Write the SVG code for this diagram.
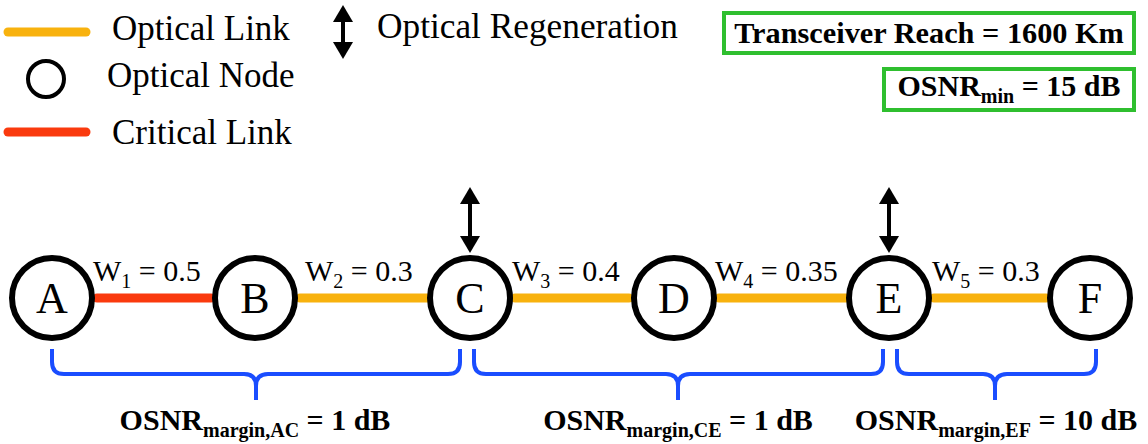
<svg xmlns="http://www.w3.org/2000/svg" width="1148" height="444" viewBox="0 0 1148 444">
<style>
text{font-family:'Liberation Serif','DejaVu Serif',serif;fill:#000}
.b{font-weight:bold}
.node circle{fill:#fff;stroke:#000;stroke-width:6}
.node text{font-size:44px;text-anchor:middle}
.opt{stroke:#F8B20E;stroke-width:9;stroke-linecap:round;fill:none}
.crit{stroke:#FA3A0E;stroke-width:9;stroke-linecap:round;fill:none}
.brace{stroke:#1A4DFF;stroke-width:4;fill:none}
.box{fill:#fff;stroke:#2FBF2F;stroke-width:4}
.arr{stroke:#000;stroke-width:4}
.w{font-size:30px}
</style>
<defs>
<g id="regen">
<line class="arr" x1="0" y1="14" x2="0" y2="52"/>
<polygon points="0,0 10,17 -10,17" fill="#000"/>
<polygon points="0,66 10,49 -10,49" fill="#000"/>
</g>
</defs>

<g id="legend">
<line class="opt" x1="8" y1="32" x2="86" y2="32"/>
<text x="112" y="40" font-size="35">Optical Link</text>
<circle cx="46" cy="79" r="18" fill="#fff" stroke="#000" stroke-width="4"/>
<text x="107" y="87" font-size="35">Optical Node</text>
<line class="crit" x1="8" y1="132" x2="86" y2="132"/>
<text x="112" y="144" font-size="35">Critical Link</text>
<line class="arr" x1="343" y1="18" x2="343" y2="46"/>
<polygon points="343,5 353,22 333,22" fill="#000"/>
<polygon points="343,59 353,42 333,42" fill="#000"/>
<text x="377" y="38" font-size="35.3">Optical Regeneration</text>
</g>

<g id="reach">
<rect class="box" x="724" y="13" width="410" height="40"/>
<text class="b" x="929" y="43" font-size="30.3" text-anchor="middle">Transceiver Reach = 1600 Km</text>
</g>
<g id="osnrmin">
<rect class="box" x="884" y="69" width="250" height="41"/>
<text class="b" x="1009" y="96" font-size="30" text-anchor="middle">OSNR<tspan font-size="20" dy="7">min</tspan><tspan dy="-7"> = 15 dB</tspan></text>
</g>

<g id="connectors">
<line class="crit" x1="97" y1="298" x2="211" y2="298"/>
<line class="opt" x1="300" y1="298" x2="428" y2="298"/>
<line class="opt" x1="515" y1="298" x2="629" y2="298"/>
<line class="opt" x1="719" y1="298" x2="846" y2="298"/>
<line class="opt" x1="934" y1="298" x2="1046" y2="298"/>
<text class="w" x="93" y="281">W<tspan font-size="20" dy="7">1</tspan><tspan dy="-7"> = 0.5</tspan></text>
<text class="w" x="305" y="281">W<tspan font-size="20" dy="7">2</tspan><tspan dy="-7"> = 0.3</tspan></text>
<text class="w" x="512" y="281">W<tspan font-size="20" dy="7">3</tspan><tspan dy="-7"> = 0.4</tspan></text>
<text class="w" x="715" y="281">W<tspan font-size="20" dy="7">4</tspan><tspan dy="-7"> = 0.35</tspan></text>
<text class="w" x="932" y="281">W<tspan font-size="20" dy="7">5</tspan><tspan dy="-7"> = 0.3</tspan></text>
<use href="#regen" x="470" y="187"/>
<use href="#regen" x="889" y="187"/>
</g>

<g id="nodeA" class="node"><circle cx="52" cy="298" r="40"/><text x="52" y="313">A</text></g>
<g id="nodeB" class="node"><circle cx="255" cy="298" r="40"/><text x="255" y="313">B</text></g>
<g id="nodeC" class="node"><circle cx="470" cy="298" r="40"/><text x="470" y="313">C</text></g>
<g id="nodeD" class="node"><circle cx="674" cy="298" r="40"/><text x="674" y="313">D</text></g>
<g id="nodeE" class="node"><circle cx="889" cy="298" r="40"/><text x="889" y="313">E</text></g>
<g id="nodeF" class="node"><circle cx="1090" cy="298" r="40"/><text x="1090" y="313">F</text></g>

<g id="braces">
<path class="brace" d="M52,349 V362 Q52,374 64,374 H244 Q256,374 256,386 V400 M256,386 Q256,374 268,374 H448 Q460,374 460,362 V349"/>
<path class="brace" d="M474,349 V362 Q474,374 486,374 H666 Q678,374 678,386 V400 M678,386 Q678,374 690,374 H871 Q883,374 883,362 V349"/>
<path class="brace" d="M897,349 V362 Q897,374 909,374 H983 Q995,374 995,386 V400 M995,386 Q995,374 1007,374 H1084 Q1096,374 1096,362 V349"/>
<text class="b" x="255" y="430" font-size="30" text-anchor="middle">OSNR<tspan font-size="20" dy="7">margin,AC</tspan><tspan dy="-7"> = 1 dB</tspan></text>
<text class="b" x="678" y="430" font-size="30" text-anchor="middle">OSNR<tspan font-size="20" dy="7">margin,CE</tspan><tspan dy="-7"> = 1 dB</tspan></text>
<text class="b" x="996" y="430" font-size="30" text-anchor="middle">OSNR<tspan font-size="20" dy="7">margin,EF</tspan><tspan dy="-7"> = 10 dB</tspan></text>
</g>
</svg>
